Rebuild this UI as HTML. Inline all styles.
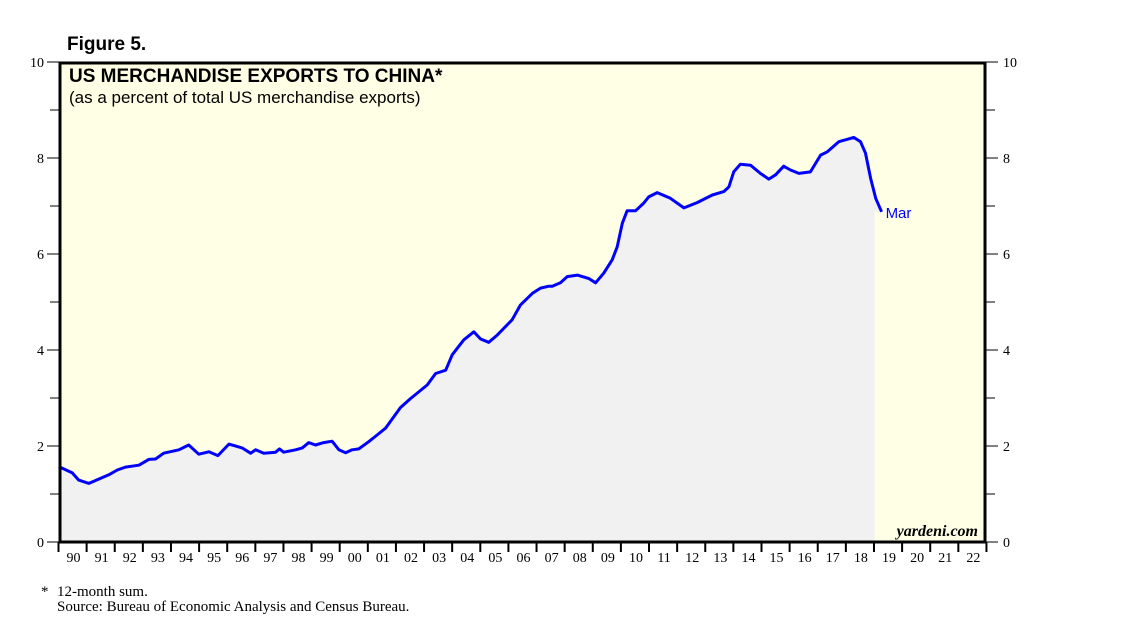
<!DOCTYPE html>
<html><head><meta charset="utf-8"><style>
body{margin:0;background:#fff;}
svg{display:block;}
</style></head><body>
<svg id="chart" width="1138" height="627" xmlns="http://www.w3.org/2000/svg">
<text x="67" y="50" font-family="Liberation Sans, sans-serif" font-weight="bold" font-size="19">Figure 5.</text>
<rect x="60" y="63" width="925" height="479" fill="#ffffe6"/>
<g id="series"></g>
<rect x="60" y="63" width="925" height="479" fill="none" stroke="#000" stroke-width="3"/>
<g id="axes"></g>
<text x="69" y="82" font-family="Liberation Sans, sans-serif" font-weight="bold" font-size="19">US MERCHANDISE EXPORTS TO CHINA*</text>
<text x="69" y="103" font-family="Liberation Sans, sans-serif" font-size="17">(as a percent of total US merchandise exports)</text>
<text x="978" y="536" text-anchor="end" font-family="Liberation Serif, serif" font-style="italic" font-weight="bold" font-size="16">yardeni.com</text>
<text x="41" y="596" font-family="Liberation Serif, serif" font-size="15">*</text>
<text x="57" y="596" font-family="Liberation Serif, serif" font-size="15">12-month sum.</text>
<text x="57" y="611" font-family="Liberation Serif, serif" font-size="15">Source: Bureau of Economic Analysis and Census Bureau.</text>
</svg>
<script>
const years=[1990.01,1990.49,1990.72,1991.08,1991.43,1991.79,1992.09,1992.38,1992.86,1993.21,1993.45,1993.74,1994.28,1994.63,1994.99,1995.35,1995.67,1996.06,1996.53,1996.83,1997.01,1997.30,1997.72,1997.86,1998.01,1998.43,1998.67,1998.90,1999.14,1999.43,1999.73,1999.97,2000.21,2000.44,2000.68,2001.03,2001.33,2001.63,2002.16,2002.52,2003.11,2003.41,2003.77,2004.00,2004.41,2004.77,2005.01,2005.30,2005.60,2006.13,2006.43,2006.85,2007.14,2007.44,2007.56,2007.85,2008.09,2008.45,2008.86,2009.10,2009.39,2009.69,2009.87,2010.05,2010.22,2010.52,2010.81,2010.99,2011.29,2011.76,2012.24,2012.71,2013.25,2013.66,2013.84,2014.01,2014.25,2014.61,2014.96,2015.26,2015.50,2015.79,2016.03,2016.33,2016.74,2017.10,2017.34,2017.75,2018.05,2018.28,2018.52,2018.70,2018.88,2019.06,2019.27];
const values=[1.57,1.44,1.29,1.22,1.31,1.40,1.50,1.56,1.60,1.72,1.73,1.85,1.92,2.02,1.83,1.88,1.80,2.04,1.96,1.85,1.92,1.85,1.87,1.94,1.87,1.92,1.96,2.07,2.02,2.07,2.10,1.92,1.86,1.92,1.94,2.09,2.23,2.37,2.80,2.99,3.27,3.51,3.58,3.90,4.21,4.38,4.23,4.16,4.31,4.63,4.94,5.18,5.29,5.33,5.33,5.40,5.53,5.56,5.49,5.40,5.60,5.88,6.15,6.64,6.90,6.90,7.06,7.19,7.28,7.16,6.96,7.07,7.23,7.30,7.40,7.71,7.87,7.85,7.68,7.56,7.65,7.83,7.75,7.68,7.71,8.06,8.13,8.34,8.39,8.43,8.34,8.10,7.58,7.16,6.88];
const yTicks=[0,2,4,6,8,10];
const xLabels=["90","91","92","93","94","95","96","97","98","99","00","01","02","03","04","05","06","07","08","09","10","11","12","13","14","15","16","17","18","19","20","21","22"];
const lastLabel="Mar";
const NS="http://www.w3.org/2000/svg";
const X0=58.5,XW=28.12,Y0=542,YS=48;
function xs(t){return X0+(t-1990)*XW;}
function ys(v){return Y0-v*YS;}
function mk(tag,attrs,parent){const e=document.createElementNS(NS,tag);for(const k in attrs)e.setAttribute(k,attrs[k]);parent.appendChild(e);return e;}
const S=document.getElementById('series'),A=document.getElementById('axes');
let pts=years.map((t,i)=>xs(t).toFixed(1)+','+ys(values[i]).toFixed(1));
const fillEnd=xs(years[years.length-1])-7;
const area=mk('polygon',{points:xs(years[0]).toFixed(1)+','+Y0+' '+pts.join(' ')+' '+fillEnd.toFixed(1)+','+ys(values[values.length-1]).toFixed(1)+' '+fillEnd.toFixed(1)+','+Y0,fill:'#f1f1f1'},S);


const line=mk('polyline',{points:pts.join(' '),fill:'none',stroke:'#0000ff','stroke-width':3,'stroke-linejoin':'round'},S);


const ml=mk('text',{x:xs(years[years.length-1])+4,y:ys(values[values.length-1])+6,fill:'#0000ff','font-family':'Liberation Sans, sans-serif','font-size':15},S);
ml.textContent=lastLabel;


for(let v=0;v<=10;v++){
  const y=ys(v),major=v%2===0;
  const tl=mk('line',{x1:major?47:50,x2:59,y1:y,y2:y,stroke:'#000','stroke-width':1},A);
  
  
  const tr=mk('line',{x1:986,x2:major?998:995,y1:y,y2:y,stroke:'#000','stroke-width':1},A);
  
  
}
yTicks.forEach(v=>{
  const y=ys(v);
  const l=mk('text',{x:44,y:y+5,'text-anchor':'end','font-family':'Liberation Serif, serif','font-size':14},A);
  l.textContent=v;
  
  
  const r=mk('text',{x:1003,y:y+5,'font-family':'Liberation Serif, serif','font-size':14},A);
  r.textContent=v;
  
  
});
xLabels.forEach((s,i)=>{
  const x=xs(1990+i);
  const t=mk('line',{x1:x,x2:x,y1:542,y2:552,stroke:'#000','stroke-width':2},A);
  
  
  const l=mk('text',{x:x+XW/2+1,y:562,'text-anchor':'middle','font-family':'Liberation Serif, serif','font-size':14},A);
  l.textContent=s;
  
  
});
const tEnd=mk('line',{x1:xs(2023),x2:xs(2023),y1:542,y2:552,stroke:'#000','stroke-width':2},A);


</script>
</body></html>
